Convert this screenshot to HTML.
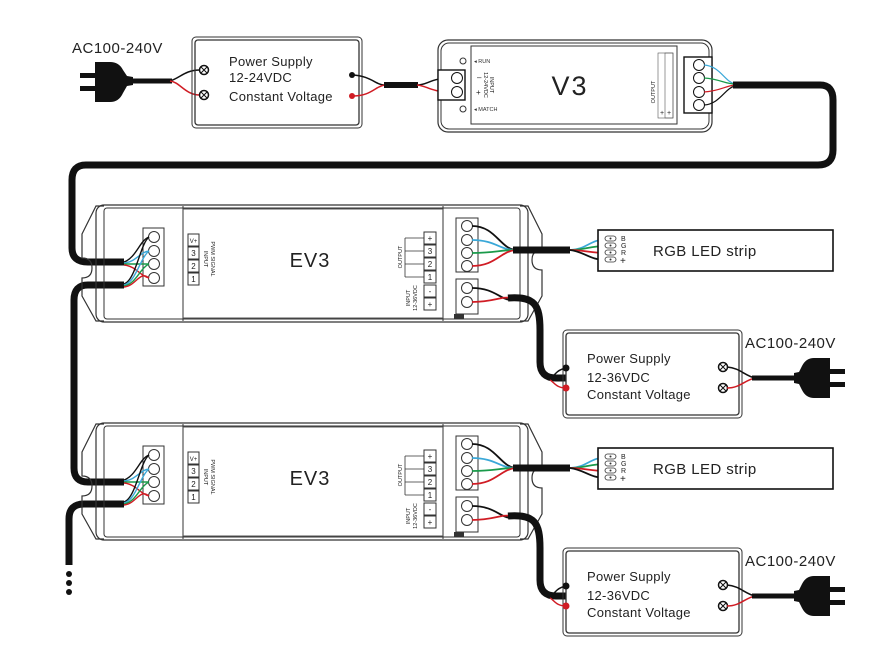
<!DOCTYPE html>
<html><head><meta charset="utf-8"><style>
html,body{margin:0;padding:0;background:#fff;}
svg{display:block;font-family:"Liberation Sans",sans-serif;}
.t{font-size:13px;fill:#222;letter-spacing:0.3px}
</style></head><body>
<svg width="879" height="660" viewBox="0 0 879 660" xmlns="http://www.w3.org/2000/svg">
<defs>
<g id="plugL">
  <rect x="80" y="73" width="16" height="5" fill="#111"/>
  <rect x="80" y="86" width="16" height="5" fill="#111"/>
  <path d="M95,62 L110,62 Q119,62 123,70 L127,76 L133,77 L133,85 L127,86 L123,93 Q119,102 110,102 L95,102 Z" fill="#111"/>
</g>
<g id="psu2">
  <rect x="563" y="330" width="179" height="88" rx="4" fill="none" stroke="#333" stroke-width="1"/>
  <rect x="566" y="333" width="173" height="82" rx="3" fill="none" stroke="#333" stroke-width="1.3"/>
  <text class="t" x="587" y="363">Power Supply</text>
  <text class="t" x="587" y="382">12-36VDC</text>
  <text class="t" x="587" y="399">Constant Voltage</text>
  <circle cx="723" cy="367" r="4.5" fill="#fff" stroke="#111" stroke-width="1.5"/>
  <path d="M720,364l6,6M726,364l-6,6" stroke="#111"/>
  <circle cx="723" cy="388" r="4.5" fill="#fff" stroke="#111" stroke-width="1.5"/>
  <path d="M720,385l6,6M726,385l-6,6" stroke="#111"/>
  <text x="745" y="348" font-size="15" fill="#222" letter-spacing="0.5">AC100-240V</text>
  <path d="M727,367 C740,368 745,376 755,378" stroke="#111" fill="none" stroke-width="1.5"/>
  <path d="M727,388 C740,388 745,380 755,378" stroke="#d01c24" fill="none" stroke-width="1.5"/>
  <path d="M752,378 L800,378" stroke="#111" stroke-width="5"/>
  <path d="M830,358 L814,358 Q806,358 802,366 L799,372 L794,373 L794,383 L799,384 L802,390 Q806,398 814,398 L830,398 Z" fill="#111"/>
  <rect x="828" y="369" width="17" height="5" fill="#111"/>
  <rect x="828" y="382" width="17" height="5" fill="#111"/>
  <circle cx="566" cy="368" r="3.5" fill="#111"/>
  <circle cx="566" cy="388" r="3.5" fill="#d01c24"/>
  <path d="M566,368 C556,370 554,376 550,380" stroke="#111" stroke-width="1.5" fill="none"/>
  <path d="M566,388 C556,388 554,382 550,380" stroke="#d01c24" stroke-width="1.5" fill="none"/>
</g>
<g id="ev3">
  <path d="M104,206 L96,206 L82,234 L82,258 Q92,258 92,268 Q92,278 82,278 L82,296 L96,321 L104,321" fill="none" stroke="#333" stroke-width="1.2"/>
  <path d="M520,206 L528,206 L542,234 L542,250 Q532,250 532,260 Q532,270 542,270 L542,296 L528,321 L520,321" fill="none" stroke="#333" stroke-width="1.2"/>
  <rect x="96" y="205" width="432" height="117" rx="8" fill="none" stroke="#333" stroke-width="1.2"/>
  <rect x="104" y="208" width="416" height="111" rx="3" fill="none" stroke="#333" stroke-width="1"/>
  <line x1="183" y1="206" x2="183" y2="321" stroke="#333"/>
  <line x1="443" y1="206" x2="443" y2="321" stroke="#333"/>
  <line x1="183" y1="209" x2="443" y2="209" stroke="#555"/>
  <line x1="183" y1="318" x2="443" y2="318" stroke="#555"/>
  <rect x="454" y="314" width="10" height="5" fill="#333"/>
  <rect x="143" y="228" width="21" height="58" fill="#fff" stroke="#333"/>
  <circle cx="154" cy="237" r="5.5" fill="#fff" stroke="#333"/>
  <circle cx="154" cy="251" r="5.5" fill="#fff" stroke="#333"/>
  <circle cx="154" cy="264" r="5.5" fill="#fff" stroke="#333"/>
  <circle cx="154" cy="278" r="5.5" fill="#fff" stroke="#333"/>
  <path d="M124,262 C136,258 140,240 149,237" stroke="#111" fill="none" stroke-width="1.4"/>
  <path d="M124,263 C136,262 140,252 149,251" stroke="#3aa8d8" fill="none" stroke-width="1.4"/>
  <path d="M124,264 C136,264 140,264 149,264" stroke="#1a9a4a" fill="none" stroke-width="1.4"/>
  <path d="M124,265 C136,266 140,276 149,278" stroke="#d01c24" fill="none" stroke-width="1.4"/>
  <path d="M124,284 C136,280 140,244 149,237" stroke="#111" fill="none" stroke-width="1.4"/>
  <path d="M124,285 C136,282 140,258 149,251" stroke="#3aa8d8" fill="none" stroke-width="1.4"/>
  <path d="M124,286 C136,284 140,268 149,264" stroke="#1a9a4a" fill="none" stroke-width="1.4"/>
  <path d="M124,287 C136,286 140,270 149,278" stroke="#d01c24" fill="none" stroke-width="1.4"/>
  <g font-size="8" fill="#222" text-anchor="middle">
    <rect x="188" y="234" width="11" height="12" fill="#fff" stroke="#333"/><text x="193.5" y="243" font-size="6">V+</text>
    <rect x="188" y="247" width="11" height="12" fill="#fff" stroke="#333"/><text x="193.5" y="256">3</text>
    <rect x="188" y="260" width="11" height="12" fill="#fff" stroke="#333"/><text x="193.5" y="269">2</text>
    <rect x="188" y="273" width="11" height="12" fill="#fff" stroke="#333"/><text x="193.5" y="282">1</text>
  </g>
  <text transform="translate(204,259) rotate(90)" font-size="5.5" text-anchor="middle" fill="#222">INPUT</text>
  <text transform="translate(211,259) rotate(90)" font-size="5.5" text-anchor="middle" fill="#222">PWM SIGNAL</text>
  <text x="310" y="267" font-size="20" text-anchor="middle" fill="#222" letter-spacing="1">EV3</text>
  <g font-size="8" fill="#222" text-anchor="middle">
    <rect x="424" y="232" width="12" height="12" fill="#fff" stroke="#333"/><text x="430" y="241">+</text>
    <rect x="424" y="245" width="12" height="12" fill="#fff" stroke="#333"/><text x="430" y="254">3</text>
    <rect x="424" y="258" width="12" height="12" fill="#fff" stroke="#333"/><text x="430" y="267">2</text>
    <rect x="424" y="271" width="12" height="12" fill="#fff" stroke="#333"/><text x="430" y="280">1</text>
    <rect x="424" y="285" width="12" height="12" fill="#fff" stroke="#333"/><text x="430" y="294">-</text>
    <rect x="424" y="298" width="12" height="12" fill="#fff" stroke="#333"/><text x="430" y="307">+</text>
  </g>
  <path d="M405,238 L424,238 M405,238 L405,277 M405,251 L424,251 M405,264 L424,264 M405,277 L424,277" stroke="#333" fill="none" stroke-width="0.8"/>
  <text transform="translate(402,257) rotate(-90)" font-size="5.5" text-anchor="middle" fill="#222">OUTPUT</text>
  <text transform="translate(410,298) rotate(-90)" font-size="5.5" text-anchor="middle" fill="#222">INPUT</text>
  <text transform="translate(417,298) rotate(-90)" font-size="5.5" text-anchor="middle" fill="#222">12-36VDC</text>
  <rect x="456" y="218" width="22" height="54" fill="#fff" stroke="#333"/>
  <circle cx="467" cy="226" r="5.5" fill="#fff" stroke="#333"/>
  <circle cx="467" cy="240" r="5.5" fill="#fff" stroke="#333"/>
  <circle cx="467" cy="253" r="5.5" fill="#fff" stroke="#333"/>
  <circle cx="467" cy="266" r="5.5" fill="#fff" stroke="#333"/>
  <rect x="456" y="279" width="22" height="35" fill="#fff" stroke="#333"/>
  <circle cx="467" cy="288" r="5.5" fill="#fff" stroke="#333"/>
  <circle cx="467" cy="302" r="5.5" fill="#fff" stroke="#333"/>
  <path d="M472,226 C495,226 500,248 515,250" stroke="#111" fill="none" stroke-width="1.8"/>
  <path d="M472,240 C495,240 500,250 515,250" stroke="#3aa8d8" fill="none" stroke-width="1.8"/>
  <path d="M472,253 C495,253 500,250 515,250" stroke="#1a9a4a" fill="none" stroke-width="1.8"/>
  <path d="M472,266 C495,266 500,252 515,250" stroke="#d01c24" fill="none" stroke-width="1.8"/>
  <path d="M513,250 L570,250" stroke="#111" stroke-width="7"/>
  <path d="M570,250 C585,250 590,240 606,239" stroke="#3aa8d8" fill="none" stroke-width="1.8"/>
  <path d="M570,250 C585,250 590,246 606,246" stroke="#1a9a4a" fill="none" stroke-width="1.8"/>
  <path d="M570,250 C585,250 590,253 606,253" stroke="#d01c24" fill="none" stroke-width="1.8"/>
  <path d="M570,250 C585,252 590,260 606,260" stroke="#111" fill="none" stroke-width="1.8"/>
  <path d="M472,288 C495,288 500,300 512,300" stroke="#111" fill="none" stroke-width="1.8"/>
  <path d="M472,302 C495,302 500,296 512,298" stroke="#d01c24" fill="none" stroke-width="1.8"/>
  <path d="M508,298 C535,296 540,305 540,330 L540,362 Q540,378 556,378 L566,378" stroke="#111" fill="none" stroke-width="7"/>
  <rect x="598" y="230" width="235" height="41" fill="#fff" stroke="#111" stroke-width="1.6"/>
  <g fill="#fff" stroke="#333" stroke-width="0.8">
    <rect x="605" y="236" width="11" height="5" rx="2.5"/><rect x="605" y="243" width="11" height="5" rx="2.5"/>
    <rect x="605" y="250" width="11" height="5" rx="2.5"/><rect x="605" y="257" width="11" height="5" rx="2.5"/>
  </g>
  <g fill="#333"><circle cx="610.5" cy="238.5" r="1"/><circle cx="610.5" cy="245.5" r="1"/><circle cx="610.5" cy="252.5" r="1"/><circle cx="610.5" cy="259.5" r="1"/></g>
  <g font-size="7" fill="#222"><text x="621" y="241">B</text><text x="621" y="248">G</text><text x="621" y="255">R</text><text x="620" y="264" font-size="10">+</text></g>
  <text x="653" y="256" font-size="15" fill="#222" letter-spacing="0.4">RGB LED strip</text>
</g>
</defs>

<text x="72" y="53" font-size="15" fill="#222" letter-spacing="0.5">AC100-240V</text>
<use href="#plugL"/>
<path d="M130,81 L172,81" stroke="#111" stroke-width="5"/>
<path d="M170,81 C180,78 185,70 200,70" stroke="#111" fill="none" stroke-width="1.5"/>
<path d="M170,81 C180,82 185,95 200,95" stroke="#d01c24" fill="none" stroke-width="1.5"/>
<rect x="192" y="37" width="170" height="91" rx="4" fill="none" stroke="#333"/>
<rect x="195" y="40" width="164" height="85" rx="3" fill="none" stroke="#333" stroke-width="1.3"/>
<circle cx="204" cy="70" r="4.5" fill="#fff" stroke="#111" stroke-width="1.5"/><path d="M201,67l6,6M207,67l-6,6" stroke="#111"/>
<circle cx="204" cy="95" r="4.5" fill="#fff" stroke="#111" stroke-width="1.5"/><path d="M201,92l6,6M207,92l-6,6" stroke="#111"/>
<text class="t" x="229" y="66">Power Supply</text>
<text class="t" x="229" y="82">12-24VDC</text>
<text class="t" x="229" y="101">Constant Voltage</text>
<circle cx="352" cy="75" r="3" fill="#111"/><circle cx="352" cy="96" r="3" fill="#d01c24"/>
<path d="M352,75 C372,76 375,85 385,85" stroke="#111" fill="none" stroke-width="1.5"/>
<path d="M352,96 C372,96 375,86 385,85" stroke="#d01c24" fill="none" stroke-width="1.5"/>
<path d="M384,85 L418,85" stroke="#111" stroke-width="6"/>
<path d="M417,85 C428,85 430,78 452,78" stroke="#111" fill="none" stroke-width="1.5"/>
<path d="M417,85 C428,86 430,92 452,92" stroke="#d01c24" fill="none" stroke-width="1.5"/>

<rect x="438" y="40" width="274" height="92" rx="10" fill="none" stroke="#333" stroke-width="1.2"/>
<rect x="441" y="43" width="268" height="86" rx="8" fill="none" stroke="#333"/>
<rect x="471" y="46" width="206" height="78" fill="none" stroke="#333"/>
<rect x="438" y="70" width="27" height="30" fill="#fff" stroke="#111" stroke-width="1.4"/>
<circle cx="457" cy="78" r="5.5" fill="#fff" stroke="#111"/><circle cx="457" cy="92" r="5.5" fill="#fff" stroke="#111"/>
<circle cx="463" cy="61" r="3" fill="none" stroke="#333"/><circle cx="463" cy="109" r="3" fill="none" stroke="#333"/>
<text x="474" y="63" font-size="5.5" fill="#333">◂ RUN</text>
<text x="474" y="111" font-size="5.5" fill="#333">◂ MATCH</text>
<text x="477" y="80" font-size="8" fill="#222">–</text><text x="476" y="95" font-size="8" fill="#222">+</text>
<text transform="translate(490,85) rotate(90)" font-size="5.5" text-anchor="middle" fill="#222">INPUT</text>
<text transform="translate(484,85) rotate(90)" font-size="5.5" text-anchor="middle" fill="#222">12-24VDC</text>
<text x="570" y="95" font-size="27" text-anchor="middle" fill="#222" letter-spacing="2">V3</text>
<rect x="658" y="53" width="15" height="65" fill="none" stroke="#555" stroke-width="0.6"/>
<rect x="665" y="53" width="8" height="65" fill="none" stroke="#555" stroke-width="0.6"/>
<text transform="translate(655,92) rotate(-90)" font-size="5.5" text-anchor="middle" fill="#222">OUTPUT</text>
<text x="660" y="115" font-size="7" fill="#222">+</text><text x="667" y="115" font-size="7" fill="#222">+</text>
<rect x="684" y="57" width="28" height="56" fill="#fff" stroke="#111" stroke-width="1.4"/>
<circle cx="699" cy="65" r="5.5" fill="#fff" stroke="#111"/><circle cx="699" cy="78" r="5.5" fill="#fff" stroke="#111"/>
<circle cx="699" cy="92" r="5.5" fill="#fff" stroke="#111"/><circle cx="699" cy="105" r="5.5" fill="#fff" stroke="#111"/>
<path d="M704,65 C720,66 725,82 735,84" stroke="#3aa8d8" fill="none" stroke-width="1.2"/>
<path d="M704,78 C720,79 725,84 735,84" stroke="#1a9a4a" fill="none" stroke-width="1.2"/>
<path d="M704,92 C720,91 725,86 735,85" stroke="#d01c24" fill="none" stroke-width="1.2"/>
<path d="M704,105 C720,104 725,88 735,86" stroke="#111" fill="none" stroke-width="1.2"/>
<path d="M733,85 L820,85 Q833,85 833,100 L833,150 Q833,165 818,165 L86,165 Q72,165 72,180 L72,248 Q72,262 88,262 L124,262" stroke="#111" fill="none" stroke-width="7"/>
<path d="M124,285 L88,285 Q74,285 74,300 L74,468 Q74,482 88,482 L124,482" stroke="#111" fill="none" stroke-width="7"/>
<path d="M124,504 L84,504 Q69,504 69,519 L69,565" stroke="#111" fill="none" stroke-width="7"/>
<circle cx="69" cy="574" r="3" fill="#111"/><circle cx="69" cy="583" r="3" fill="#111"/><circle cx="69" cy="592" r="3" fill="#111"/>

<use href="#ev3"/>
<use href="#ev3" transform="translate(0,218)"/>
<use href="#psu2"/>
<use href="#psu2" transform="translate(0,218)"/>
</svg>
</body></html>
